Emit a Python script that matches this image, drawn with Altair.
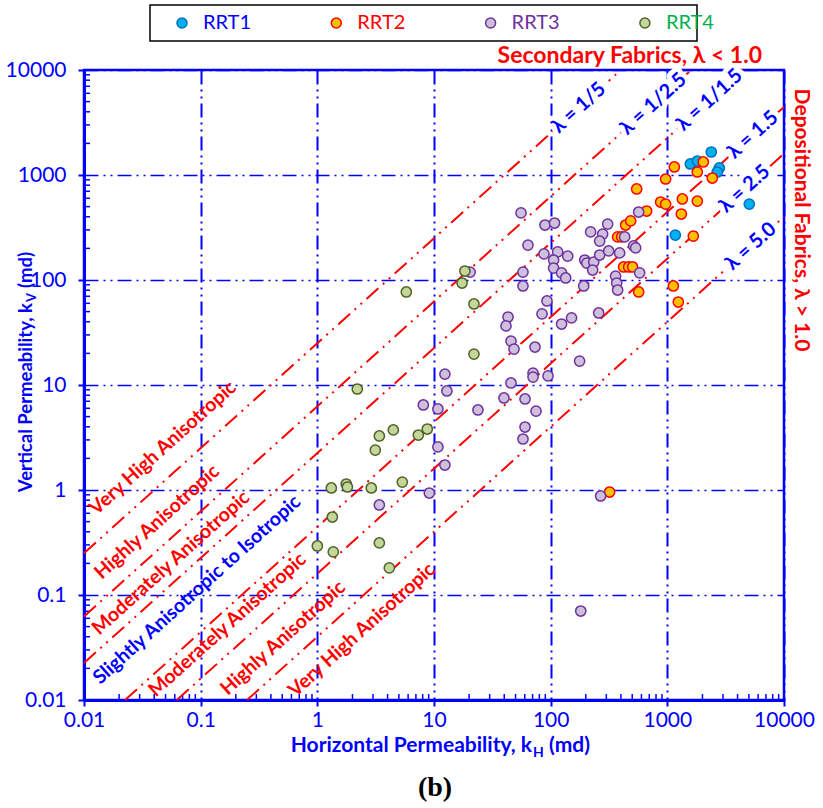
import altair as alt
import pandas as pd

# ---------------------------------------------------------------- data
rrt_names = ["RRT1", "RRT2", "RRT3", "RRT4"]
fill_colors = ["#00B0F0", "#FFC000", "#CCC0DA", "#C4D79B"]
edge_colors = ["#0070C0", "#FF0000", "#7030A0", "#4F6228"]
name_colors = ["#0000FF", "#FF0000", "#7030A0", "#00B050"]

# horizontal (kH) and vertical (kV) permeability, md
rrt1_kh = [2380, 1575, 1807, 2790, 2680, 5040, 1171]
rrt1_kv = [1656, 1273, 1359, 1166, 1068, 529, 268]

rrt2_kh = [2035, 1807, 2430, 1148, 967, 546, 1345, 1807, 876, 967,
           665, 1318, 1670, 439, 485, 375, 406, 422, 466, 504,
           568, 1126, 1242, 320]
rrt2_kv = [1330, 1068, 936, 1192, 916, 736, 591, 565, 553, 529,
           454, 425, 262, 334, 365, 257, 257, 133, 133, 133,
           76.9, 87.7, 61.7, 0.957]

rrt3_kh = [55.7, 89.4, 108, 63.9, 87.6, 114.8, 106, 140, 106, 124,
           134.5, 57.9, 57.9, 20.4, 93, 84.3, 43.1, 41.4, 124, 151,
           45.7, 48.5, 73.4, 177, 70.6, 70.6, 94.9, 45.7, 12.4, 12.9,
           8.1, 10.8, 23.8, 39.8, 60.3, 74.9, 60.3, 57.9, 10.8, 12.4,
           9.12, 3.4, 268, 181, 568, 308, 220, 279, 263, 431,
           514, 535, 196, 204, 234, 229, 263, 314, 390, 360,
           368, 375, 579, 192, 258]
rrt3_kv = [435, 334, 349, 215, 177, 185, 155, 169, 130, 117,
           104.5, 119, 87.7, 119, 63.1, 47.5, 44.4, 36.5, 38.1, 43.5,
           26.2, 22.0, 23.0, 16.9, 13.0, 11.9, 12.2, 10.45, 12.7, 8.77,
           6.45, 5.91, 5.78, 7.52, 7.36, 5.65, 3.98, 3.06, 2.57, 1.73,
           0.936, 0.72, 0.877, 0.0704, 444, 341, 287, 274, 235, 257,
           211, 202, 155, 145, 148, 124.5, 173, 189, 181, 109,
           93.6, 80.3, 117, 87.7, 48.5]

rrt4_kh = [18.4, 17.4, 22.0, 5.79, 22.0, 2.20, 3.4, 4.48, 3.14, 7.34,
           8.76, 5.35, 1.318, 1.77, 1.81, 2.9, 1.345, 1.0, 1.37, 3.4, 4.14]
rrt4_kv = [121.8, 93.6, 59.1, 76.9, 19.7, 9.16, 3.27, 3.73, 2.40, 3.34,
           3.81, 1.19, 1.045, 1.14, 1.068, 1.045, 0.553, 0.293, 0.257, 0.313, 0.181]

# anisotropy lines: lambda = sqrt(kH / kV)
lam_values = [1 / 5, 1 / 2.5, 1 / 1.5, 1.5, 2.5, 5.0]
lam_labels = ["λ = 1/5", "λ = 1/2.5", "λ = 1/1.5", "λ = 1.5", "λ = 2.5", "λ = 5.0"]
lam_label_kh = [174, 759, 2300, 5420, 4600, 5212]

region_labels = ["Very High Anisotropic", "Highly Anisotropic", "Moderately Anisotropic",
                 "Slightly Anisotropic to Isotropic", "Moderately Anisotropic",
                 "Highly Anisotropic", "Very High Anisotropic"]
region_kh = [0.0475, 0.0423, 0.0557, 0.093, 0.17, 0.508, 2.41]
region_kv = [2.51, 0.495, 0.202, 0.112, 0.052, 0.0389, 0.0464]
region_colors = ["#FF0000", "#FF0000", "#FF0000", "#0000FF", "#FF0000", "#FF0000", "#FF0000"]

decades = [0.01, 0.1, 1, 10, 100, 1000, 10000]

# ---------------------------------------------------------------- tables
frames = []
for name, kh, kv in zip(rrt_names, [rrt1_kh, rrt2_kh, rrt3_kh, rrt4_kh],
                        [rrt1_kv, rrt2_kv, rrt3_kv, rrt4_kv]):
    frames.append(pd.DataFrame({"kh": kh, "kv": kv, "rrt": name}))
points = pd.concat(frames, ignore_index=True)

K_MIN, K_MAX = decades[0], decades[-1]
line_rows = []
for lam in lam_values:
    r = 1.0 / lam ** 2  # kV = r * kH
    kh0 = max(K_MIN, K_MIN / r)
    kh1 = min(K_MAX, K_MAX / r)
    line_rows.append({"lam": str(lam), "kh": kh0, "kv": kh0 * r})
    line_rows.append({"lam": str(lam), "kh": kh1, "kv": kh1 * r})
lines = pd.DataFrame(line_rows)

lam_text = pd.DataFrame({
    "text": lam_labels,
    "kh": lam_label_kh,
    "kv": [kh / lam ** 2 for kh, lam in zip(lam_label_kh, lam_values)],
})
regions = pd.DataFrame({"text": region_labels, "kh": region_kh, "kv": region_kv,
                        "color": region_colors})

minor = [m * d for d in decades[:-1] for m in range(2, 10)]
minor_df = pd.DataFrame({"v": minor})

# ---------------------------------------------------------------- style
BLUE = "#0000FF"
RED = "#FF0000"
FONT = "Lato, 'Noto Sans', 'DejaVu Sans', sans-serif"
W, H = 700, 630

xs = alt.Scale(type="log", domain=[K_MIN, K_MAX], nice=False)
ys = alt.Scale(type="log", domain=[K_MIN, K_MAX], nice=False)

common_axis = dict(values=decades, format="~g", title=None, grid=True, gridColor=BLUE,
                   gridOpacity=1, domainColor=BLUE, domainWidth=3, tickColor=BLUE,
                   tickSize=6, tickWidth=2, labelColor=BLUE, labelFont=FONT,
                   labelFontSize=21, labelFlush=False, labelOverlap=False)
x_axis = alt.Axis(gridDash=[14, 5, 2, 5, 2, 5], gridWidth=2, labelPadding=3, **common_axis)
y_axis = alt.Axis(gridDash=[14, 5, 2, 5, 2, 5], gridWidth=1.7, labelPadding=12, **common_axis)

X = lambda: alt.X("kh:Q", scale=xs, axis=x_axis)
Y = lambda: alt.Y("kv:Q", scale=ys, axis=y_axis)

# ---------------------------------------------------------------- layers
x_minor = alt.Chart(minor_df).mark_rule(color=BLUE, strokeWidth=1.5).encode(
    x=alt.X("v:Q", scale=xs, axis=x_axis), y=alt.value(H), y2=alt.value(H - 6))
y_minor = alt.Chart(minor_df).mark_rule(color=BLUE, strokeWidth=1.5).encode(
    y=alt.Y("v:Q", scale=ys, axis=y_axis), x=alt.value(0), x2=alt.value(6))

lam_lines = alt.Chart(lines).mark_line(
    color=RED, strokeWidth=2, strokeDash=[16, 6, 2, 6, 2, 6]
).encode(x=X(), y=Y(), detail="lam:N")

dots = alt.Chart(points).mark_circle(size=105, strokeWidth=1.5, opacity=1).encode(
    x=X(), y=Y(),
    fill=alt.Fill("rrt:N", scale=alt.Scale(domain=rrt_names, range=fill_colors), legend=None),
    stroke=alt.Stroke("rrt:N", scale=alt.Scale(domain=rrt_names, range=edge_colors), legend=None),
)

TEXT_ANGLE = 318
lam_halo = alt.Chart(lam_text).mark_text(
    font=FONT, fontSize=20, fontWeight="bold", angle=TEXT_ANGLE, fill="white",
    stroke="white", strokeWidth=10, strokeJoin="round"
).encode(x=X(), y=Y(), text="text:N")
lam_txt = alt.Chart(lam_text).mark_text(
    font=FONT, fontSize=20, fontWeight="bold", angle=TEXT_ANGLE, color=BLUE
).encode(x=X(), y=Y(), text="text:N")

region_txt = alt.Chart(regions).mark_text(
    font=FONT, fontSize=19.5, fontWeight="bold", angle=TEXT_ANGLE
).encode(x=X(), y=Y(), text="text:N", color=alt.Color("color:N", scale=None))


def note(text, x, y, **kw):
    return alt.Chart(pd.DataFrame({"t": [text]})).mark_text(**kw).encode(
        text="t:N", x=alt.value(x), y=alt.value(y))


bold = dict(font=FONT, fontWeight="bold")
annotations = [
    note("Secondary Fabrics, λ < 1.0", 678, -14, align="right", baseline="middle",
         fontSize=23, color=RED, **bold),
    note("Depositional Fabrics, λ > 1.0", 717, 150, align="center", baseline="middle",
         angle=90, fontSize=21, color=RED, **bold),
    # x-axis title with subscript
    note("Horizontal Permeability, k", 448, 676, align="right", baseline="middle",
         fontSize=21, color=BLUE, **bold),
    note("H", 449, 676, align="left", baseline="middle", dy=7, fontSize=14,
         color=BLUE, **bold),
    note("(md)", 465, 676, align="left", baseline="middle", fontSize=21,
         color=BLUE, **bold),
    # y-axis title with subscript
    note("Vertical Permeability, k", -58, 233, align="right", baseline="middle",
         angle=270, fontSize=18.5, color=BLUE, **bold),
    note("V", -58, 232, align="left", baseline="middle", angle=270, dy=6,
         fontSize=13, color=BLUE, **bold),
    note("(md)", -58, 218, align="left", baseline="middle", angle=270,
         fontSize=18.5, color=BLUE, **bold),
    note("(b)", 351, 718, align="center", baseline="middle", fontSize=28,
         font="'Liberation Serif', 'DejaVu Serif', serif", fontWeight="bold",
         color="black"),
]

# legend box along the top
legend_layers = [
    alt.Chart(pd.DataFrame({"t": [0]})).mark_rect(
        fill="white", stroke="black", strokeWidth=1.5
    ).encode(x=alt.value(66), x2=alt.value(613), y=alt.value(-65), y2=alt.value(-29))
]
for i, name in enumerate(rrt_names):
    cx = 98 + 154.3 * i
    legend_layers.append(
        alt.Chart(pd.DataFrame({"t": [name]})).mark_circle(
            size=100, fill=fill_colors[i], stroke=edge_colors[i], strokeWidth=1.5, opacity=1
        ).encode(x=alt.value(cx), y=alt.value(-47)))
    legend_layers.append(note(name, cx + 21, -47, align="left", baseline="middle",
                              font=FONT, fontSize=20, color=name_colors[i]))

chart = alt.layer(
    x_minor, y_minor, lam_lines, dots, lam_halo, lam_txt, region_txt,
    *annotations, *legend_layers
).properties(
    width=W, height=H,
    padding={"left": 84, "top": 70, "right": 39, "bottom": 108},
    autosize=alt.AutoSizeParams(type="none"),
).configure_view(stroke=BLUE, strokeWidth=2.5)

chart.save("out.html", embed_options={"renderer": "svg", "actions": False})
